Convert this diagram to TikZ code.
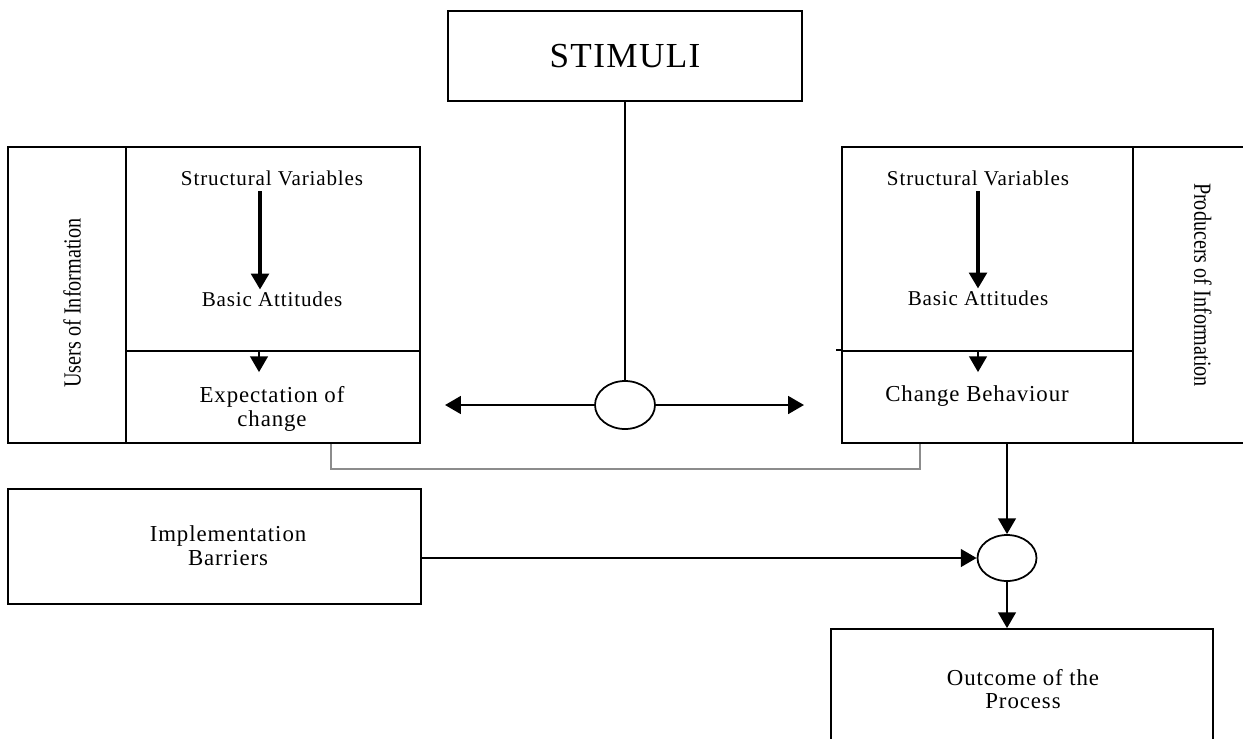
\documentclass[tikz,border=0pt]{standalone}
\usepackage{fontspec}
\setmainfont{Liberation Serif}[LetterSpace=4.0]
\newfontfamily\narrowserif{Liberation Serif}[FakeStretch=0.82]
\usetikzlibrary{arrows.meta,shapes.geometric}

\tikzset{
  box/.style={draw, line width=1pt, inner sep=0pt},
  lbl/.style={inner sep=1pt, font=\fontsize{12}{13}\selectfont},
  lblbig/.style={inner sep=1pt, align=center, font=\fontsize{13}{13.5}\selectfont},
  sidelbl/.style={inner sep=0pt, font=\narrowserif\fontsize{14}{15}\selectfont},
  hub/.style={draw, ellipse, line width=1pt, inner sep=0pt},
  thinline/.style={line width=0.8pt},
  grayline/.style={line width=1.1pt, draw=black!45},
  bigarrow/.style={line width=2pt, -{Triangle[length=9pt,width=10pt]}},
  arrow/.style={line width=1.5pt, -{Triangle[length=9pt,width=10pt]}},
}

\begin{document}
\begin{tikzpicture}[x=0.02cm,y=-0.02cm]
\useasboundingbox (0,0) rectangle (1243,738);

% top
\node[box, minimum width=7.08cm, minimum height=1.8cm,
      font=\fontsize{20}{22}\selectfont] (stimuli) at (625,56) {STIMULI};
\node[hub, minimum width=1.2cm, minimum height=0.96cm] (hub) at (625,405) {};

% users side
\node[box, minimum width=2.36cm, minimum height=5.92cm] (users) at (67,295) {};
\node[box, minimum width=5.88cm, minimum height=4.08cm] (ltop) at (273,249) {};
\node[box, minimum width=5.88cm, minimum height=1.84cm] (lbot) at (273,397) {};
\node[sidelbl, rotate=90] (userslbl) at (72,303) {Users of Information};
\node[lbl] (lsv) at (272,178) {Structural Variables};
\node[lbl] (lba) at (272,299) {Basic Attitudes};
\node[lblbig] (lexp) at (272,409) {Expectation of\\change};

% producers side
\node[box, minimum width=5.82cm, minimum height=4.08cm] (rtop) at (987.5,249) {};
\node[box, minimum width=5.82cm, minimum height=1.84cm] (rbot) at (987.5,397) {};
\node[box, minimum width=3cm, minimum height=5.92cm] (prod) at (1208,295) {};
\node[sidelbl, rotate=-90] (prodlbl) at (1203,285) {Producers of Information};
\node[lbl] (rsv) at (978,178) {Structural Variables};
\node[lbl] (rba) at (978,298) {Basic Attitudes};
\node[lblbig] (rchg) at (977,396) {Change Behaviour};
\draw[line width=1pt] (rbot.north west) -- ++(-5,0);

% bottom
\node[box, minimum width=8.26cm, minimum height=2.3cm] (barriers) at (214.5,546.5) {};
\node[lblbig] (barlbl) at (228,546) {Implementation\\Barriers};
\node[hub, minimum width=1.18cm, minimum height=0.92cm] (junc) at (1007,558) {};
\node[box, minimum width=7.64cm, minimum height=2.8cm] (outcome) at (1022,699) {};
\node[lblbig] (outlbl) at (1023,689) {Outcome of the\\Process};

% connectors
\coordinate (lend) at (445,405);
\coordinate (rend) at (804,405);
\coordinate (gl) at (331,469);
\coordinate (gr) at (920,469);

\draw[thinline] (stimuli) -- (hub);
\draw[arrow] (hub) -- (lend);
\draw[arrow] (hub) -- (rend);

\draw[bigarrow, shorten <=2pt] ([xshift=-0.24cm]lsv.south) -- ([xshift=-0.24cm]lba.north);
\draw[bigarrow, shorten <=2pt] (rsv) -- (rba);
\draw[arrow] ([xshift=-0.28cm]lbot.north) -- ++(0,22);
\draw[arrow] (rbot.north -| rba) -- ++(0,22);

\draw[grayline] (lbot.south -| gl) -- (gl) -- (gr) -- (rbot.south -| gr);

\draw[arrow] (rbot.south -| junc) -- (junc);
\draw[arrow] (barriers.east |- junc) -- (junc);
\draw[arrow] (junc.south) -- (junc.south |- outcome.north);
\end{tikzpicture}
\end{document}
